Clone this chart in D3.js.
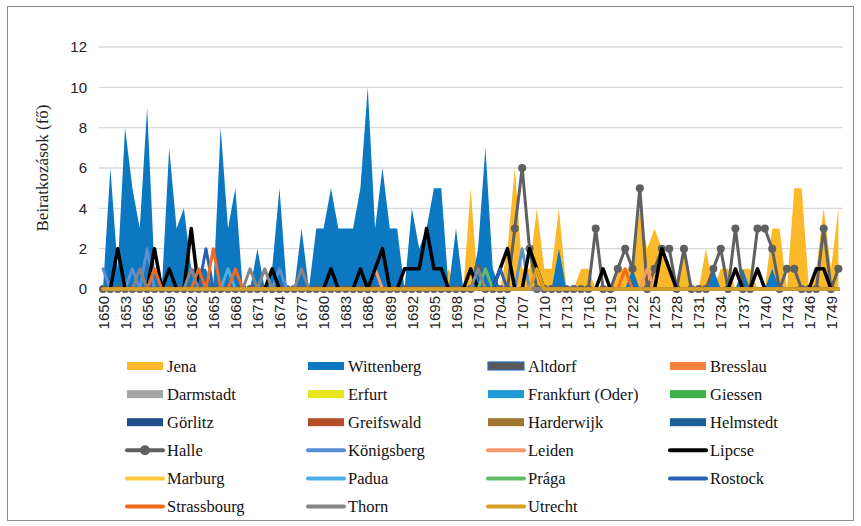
<!DOCTYPE html>
<html><head><meta charset="utf-8">
<script src="https://cdn.jsdelivr.net/npm/d3@7"></script>
<style>
body{margin:0;background:#fff}svg{display:block}
.serif{font-family:'Liberation Serif','Times New Roman',Times,serif}
.sans{font-family:'Liberation Sans',Arial,Helvetica,sans-serif}
</style>
</head><body>
<svg id="chart" width="861" height="526"></svg>
<script>
// ---------- DATA ----------
const years = d3.range(1650, 1751);
const tickLabels = ["1650","1653","1656","1659","1662","1665","1668","1671","1674","1677","1680","1683","1686","1689","1692","1695","1698","1701","1704","1707","1710","1713","1716","1719","1722","1725","1728","1731","1734","1737","1740","1743","1746","1749"];
const yTicks = [0, 2, 4, 6, 8, 10, 12];

const jena = [
 0,0,0,0,0,0,0,0,0,0, 0,0,0,0,0,0,0,0,0,0, 0,0,0,0,0,0,0,0,0,0, 0,0,0,0,0,0,0,0,0,0,
 0,0,0,0,0,0,0,1,0,0, 5,0,0,0,0,2,6,1,1,4, 1,1,4,0,0,1,1,0,0,0, 1,1,1,4,2,3,2,1,0,2,
 0,0,2,0,1,1,0,1,1,0, 0,3,3,0,5,5,0,1,4,1, 4];
const wittenberg = [
 0,6,1,8,5,3,9,1,0,7, 3,4,1,1,1,0,8,3,5,0, 0,2,0,1,5,0,0,3,0,3, 3,5,3,3,3,5,10,3,6,3,
 3,0,4,2,3,5,5,0,3,0, 0,2,7,1,0,0,0,0,0,0, 0,0,2,0,0,0,0,0,0,0, 0,0,1,0,0,0,0,0,0,0,
 0,0,0,1,0,0,0,1,0,0, 0,1,0,0,0,0,0,0,0,0, 0];
const altdorf = [
 0,0,0,0,0,0,0,0,0,0, 0,0,0,0,0,0,0,0,0,0, 0,0,0,0,0,0,0,0,0,0, 0,0,0,0,0,0,0,0,0,0,
 0,0,0,0,0,0,0,0,0,0, 0,0,0,0,0,0,0,0,0,0, 0,0,0,0,0,0,0,0,0,0, 0,0,0,0,0,0,0,0,0,0,
 0,0,0,0,0,0,0,0,0,0, 0,0,0,0,0,0,0,0,0,0, 0];
const bresslau = [
 0,0,0,0,0,0,0,0,0,0, 0,0,0,0,0,0,0,0,0,0, 0,0,0,0,0,0,0,0,0,0, 0,0,0,0,0,0,0,0,0,0,
 0,0,0,0,0,0,0,0,0,0, 0,0,0,0,0,0,0,0,0,0, 0,0,0,0,0,0,0,0,0,0, 0,0,0,0,0,0,0,0,0,0,
 0,0,0,0,0,0,0,0,0,0, 0,0,0,0,0,0,0,0,0,0, 0];
const darmstadt = [
 0,0,0,0,0,0,0,0,0,0, 0,0,0,0,0,0,0,0,0,0, 0,0,0,0,0,0,0,0,0,0, 0,0,0,0,0,0,0,0,0,0,
 0,0,0,0,0,0,0,0,0,0, 0,0,0,0,0,0,0,0,0,0, 0,0,0,0,0,0,0,0,0,0, 0,0,0,0,0,0,0,0,0,0,
 0,0,0,0,0,0,0,0,0,0, 0,0,0,0,0,0,0,0,0,0, 0];
const erfurt = [
 0,0,0,0,0,0,0,0,0,0, 0,0,0,0,0,0,0,0,0,0, 0,0,0,0,0,0,0,0,0,0, 0,0,0,0,0,0,0,0,0,0,
 0,0,0,0,0,0,0,0,0,0, 0,0,0,0,0,0,0,0,0,0, 0,0,0,0,0,0,0,0,0,0, 0,0,0,0,0,0,0,0,0,0,
 0,0,0,0,0,0,0,0,0,0, 0,0,0,0,0,0,0,0,0,0, 0];
const frankfurt = [
 0,0,0,0,0,0,0,0,0,0, 0,0,0,0,0,0,0,0,0,0, 0,0,0,0,0,0,0,0,0,0, 0,0,0,0,0,0,0,0,0,0,
 0,0,0,0,0,0,0,0,0,0, 0,0,0,0,0,0,0,0,0,0, 0,0,0,0,0,0,0,0,0,0, 0,0,0,0,0,0,0,0,0,0,
 0,0,0,0,0,0,0,0,0,0, 0,0,0,0,0,0,0,0,0,0, 0];
const giessen = [
 0,0,0,0,0,0,0,0,0,0, 0,0,0,0,0,0,0,0,0,0, 0,0,0,0,0,0,0,0,0,0, 0,0,0,0,0,0,0,0,0,0,
 0,0,0,0,0,0,0,0,0,0, 0,0,0,0,0,0,0,0,0,0, 0,0,0,0,0,0,0,0,0,0, 0,0,0,0,0,0,0,0,0,0,
 0,0,0,0,0,0,0,0,0,0, 0,0,0,0,0,0,0,0,0,0, 0];
const gorlitz = [
 0,0,0,0,0,0,0,0,0,0, 0,0,0,0,0,0,0,0,0,0, 0,0,0,0,0,0,0,0,0,0, 0,0,0,0,0,0,0,0,0,0,
 0,0,0,0,0,0,0,0,0,0, 0,0,0,0,0,0,0,0,0,0, 0,0,0,0,0,0,0,0,0,0, 0,0,0,0,0,0,0,0,0,0,
 0,0,0,0,0,0,0,0,0,0, 0,0,0,0,0,0,0,0,0,0, 0];
const greifswald = [
 0,0,0,0,0,0,0,0,0,0, 0,0,0,0,0,0,0,0,0,0, 0,0,0,0,0,0,0,0,0,0, 0,0,0,0,0,0,0,0,0,0,
 0,0,0,0,0,0,0,0,0,0, 0,0,0,0,0,0,0,0,0,0, 0,0,0,0,0,0,0,0,0,0, 0,0,0,0,0,0,0,0,0,0,
 0,0,0,0,0,0,0,0,0,0, 0,0,0,0,0,0,0,0,0,0, 0];
const harderwijk = [
 0,0,0,0,0,0,0,0,0,0, 0,0,0,0,0,0,0,0,0,0, 0,0,0,0,0,0,0,0,0,0, 0,0,0,0,0,0,0,0,0,0,
 0,0,0,0,0,0,0,0,0,0, 0,0,0,0,0,0,0,0,0,0, 0,0,0,0,0,0,0,0,0,0, 0,0,0,0,0,0,0,0,0,0,
 0,0,0,0,0,0,0,0,0,0, 0,0,0,0,0,0,0,0,0,0, 0];
const helmstedt = [
 0,0,0,0,0,0,0,0,0,0, 0,0,0,0,0,0,0,0,0,0, 0,0,0,0,0,0,0,0,0,0, 0,0,0,0,0,0,0,0,0,0,
 0,0,0,0,0,0,0,0,0,0, 0,0,0,0,0,0,0,0,0,0, 0,0,0,0,0,0,0,0,0,0, 0,0,0,0,0,0,0,0,0,0,
 0,0,0,0,0,0,0,0,0,0, 0,0,0,0,0,0,0,0,0,0, 0];
const halle = [
 0,0,0,0,0,0,0,0,0,0, 0,0,0,0,0,0,0,0,0,0, 0,0,0,0,0,0,0,0,0,0, 0,0,0,0,0,0,0,0,0,0,
 0,0,0,0,0,0,0,0,0,0, 0,1,0,0,0,0,3,6,2,0, 0,0,0,0,0,0,0,3,0,0, 1,2,1,5,0,1,2,2,0,2,
 0,0,0,1,2,0,3,0,0,3, 3,2,0,1,1,0,0,0,3,0, 1];
const konigsberg = [
 1,0,0,0,1,0,2,0,0,0, 0,0,0,0,0,0,0,0,0,0, 0,0,0,0,1,0,0,0,0,0, 0,0,0,0,0,0,0,0,0,0,
 0,0,0,0,0,0,0,0,0,0, 0,0,0,0,0,0,0,2,0,0, 0,0,0,0,0,0,0,0,0,0, 0,0,0,0,0,0,0,0,0,0,
 0,0,0,0,0,0,0,0,0,0, 0,0,0,0,0,0,0,0,0,0, 0];
const leiden = [
 0,0,0,0,0,0,0,0,0,0, 0,0,0,0,0,0,0,0,0,0, 0,0,0,0,0,0,0,0,0,0, 0,0,0,0,0,0,0,1,0,0,
 0,0,0,0,0,0,0,0,0,0, 0,0,0,0,0,0,0,0,0,0, 0,0,0,0,0,0,0,0,0,0, 0,0,0,0,1,0,0,0,0,0,
 0,0,0,0,0,0,0,0,0,0, 0,0,0,0,0,0,0,0,0,0, 0];
const lipcse = [
 0,0,2,0,0,0,0,2,0,1, 0,0,3,0,0,0,0,0,0,0, 0,0,0,1,0,0,0,0,0,0, 0,1,0,0,0,1,0,1,2,0,
 0,1,1,1,3,1,1,0,0,0, 1,0,0,0,1,2,0,0,2,1, 0,0,0,0,0,0,0,0,1,0, 0,0,0,0,0,0,2,1,0,0,
 0,0,0,0,0,0,1,0,0,1, 0,0,0,0,0,0,0,1,1,0, 0];
const marburg = [
 0,0,0,0,0,0,0,0,0,0, 0,0,0,0,0,0,0,0,0,0, 0,0,0,0,0,0,0,0,0,0, 0,0,0,0,0,0,0,0,0,0,
 0,0,0,0,0,0,0,0,0,0, 0,0,0,0,0,0,0,0,0,0, 0,0,0,0,0,0,0,0,0,0, 0,0,0,0,0,0,0,0,0,0,
 0,0,0,0,0,0,0,0,0,0, 0,0,0,0,0,0,0,0,0,0, 0];
const padua = [
 0,0,0,0,0,0,0,0,0,0, 0,0,0,0,0,0,0,1,0,0, 0,0,0,0,0,0,0,0,0,0, 0,0,0,0,0,0,0,0,0,0,
 0,0,0,0,0,0,0,0,0,0, 0,0,0,0,0,0,0,0,0,0, 0,0,0,0,0,0,0,0,0,0, 0,0,0,0,0,0,0,0,0,0,
 0,0,0,0,0,0,0,0,0,0, 0,0,0,0,0,0,0,0,0,0, 0];
const praga = [
 0,0,0,0,0,0,0,0,0,0, 0,0,0,0,0,0,0,0,0,0, 0,0,0,0,0,0,0,0,0,0, 0,0,0,0,0,0,0,0,0,0,
 0,0,0,0,0,0,0,0,0,0, 0,0,1,0,0,0,0,0,0,0, 0,0,0,0,0,0,0,0,0,0, 0,0,0,0,0,0,0,0,0,0,
 0,0,0,0,0,0,0,0,0,0, 0,0,0,0,0,0,0,0,0,0, 0];
const rostock = [
 0,0,0,0,0,0,0,0,0,0, 0,0,0,0,2,0,0,0,0,0, 0,0,0,0,0,0,0,0,0,0, 0,0,0,0,0,0,0,0,0,0,
 0,0,0,0,0,0,0,0,0,0, 0,0,0,0,1,0,0,0,0,0, 0,0,0,0,0,0,0,0,0,0, 0,0,0,0,0,0,0,0,0,0,
 0,0,0,0,0,0,0,0,0,0, 0,0,0,0,0,0,0,0,0,0, 0];
const strassbourg = [
 0,0,0,0,0,0,0,1,0,0, 0,0,0,1,0,2,0,0,1,0, 0,0,0,0,0,0,0,0,0,0, 0,0,0,0,0,0,0,0,0,0,
 0,0,0,0,0,0,0,0,0,0, 0,0,0,0,0,0,0,0,0,0, 0,0,0,0,0,0,0,0,0,0, 0,1,0,0,0,0,0,0,0,0,
 0,0,0,0,0,0,0,0,0,0, 0,0,0,0,0,0,0,0,0,0, 0];
const thorn = [
 0,0,0,0,0,1,0,0,0,0, 0,0,1,0,0,0,0,0,0,0, 1,0,1,0,0,0,0,1,0,0, 0,0,0,0,0,0,0,0,0,0,
 0,0,0,0,0,0,0,0,0,0, 0,1,0,0,0,0,0,0,0,0, 0,0,0,0,0,0,0,0,0,0, 0,0,0,0,0,0,0,0,0,0,
 0,0,0,0,0,0,0,0,0,0, 0,0,0,0,0,0,0,0,0,0, 0];
const utrecht = [
 0,0,0,0,0,0,0,0,0,0, 0,0,0,0,0,0,0,0,0,0, 0,0,0,0,0,0,0,0,0,0, 0,0,0,0,0,0,0,0,0,0,
 0,0,0,0,0,0,0,0,0,0, 0,0,0,0,0,0,0,0,0,1, 0,0,0,0,0,0,0,0,0,0, 0,0,0,0,0,0,0,0,0,0,
 0,0,0,0,0,0,0,0,0,0, 0,0,0,0,0,0,0,0,0,0, 0];

// series table (legend order, row-major over 4 columns)
const series = [
  {name:"Jena", type:"area", color:"#fbb829", values:jena},
  {name:"Wittenberg", type:"area", color:"#0b78c1", values:wittenberg},
  {name:"Altdorf", type:"area", color:"#595959", stroke:"#2f6fba", values:altdorf},
  {name:"Bresslau", type:"area", color:"#f4813f", values:bresslau},
  {name:"Darmstadt", type:"area", color:"#a5a5a5", values:darmstadt},
  {name:"Erfurt", type:"area", color:"#e6e61e", values:erfurt},
  {name:"Frankfurt (Oder)", type:"area", color:"#1e9ad8", values:frankfurt},
  {name:"Giessen", type:"area", color:"#3bb34a", values:giessen},
  {name:"Görlitz", type:"area", color:"#1f4e8c", values:gorlitz},
  {name:"Greifswald", type:"area", color:"#b34d25", values:greifswald},
  {name:"Harderwijk", type:"area", color:"#9e7430", values:harderwijk},
  {name:"Helmstedt", type:"area", color:"#1a6399", values:helmstedt},
  {name:"Halle", type:"line", color:"#5f6062", marker:true, values:halle},
  {name:"Königsberg", type:"line", color:"#5b8fd3", values:konigsberg},
  {name:"Leiden", type:"line", color:"#f79a6b", values:leiden},
  {name:"Lipcse", type:"line", color:"#000000", width:3.5, values:lipcse},
  {name:"Marburg", type:"line", color:"#ffc83a", values:marburg},
  {name:"Padua", type:"line", color:"#4daee8", values:padua},
  {name:"Prága", type:"line", color:"#62bb66", values:praga},
  {name:"Rostock", type:"line", color:"#2862b4", values:rostock},
  {name:"Strassbourg", type:"line", color:"#f26b1d", values:strassbourg},
  {name:"Thorn", type:"line", color:"#858585", values:thorn},
  {name:"Utrecht", type:"line", color:"#d99f22", width:3.5, values:utrecht}
];

// ---------- CHART ----------
const svg = d3.select("#chart");
const W = 861, H = 526;
svg.append("rect").attr("x",0).attr("y",0).attr("width",W).attr("height",H).attr("fill","#fff");
svg.append("rect").attr("x",7.5).attr("y",6.5).attr("width",846).attr("height",514)
  .attr("fill","none").attr("stroke","#8c8c8c").attr("stroke-width",1);

const x = d3.scaleLinear().domain([1650, 1750]).range([103, 838.4]);
const y = d3.scaleLinear().domain([0, 12]).range([289, 47]);
const gridX0 = 99, gridX1 = 843;

// gridlines
svg.append("g").selectAll("line").data(yTicks.filter(d => d > 0)).join("line")
  .attr("x1", gridX0).attr("x2", gridX1)
  .attr("y1", d => y(d)).attr("y2", d => y(d))
  .attr("stroke", "#d9d9d9").attr("stroke-width", 1.3);

// y axis labels
const yAxis = d3.axisLeft(y).tickValues(yTicks).tickSize(0).tickPadding(0);
const gy = svg.append("g").attr("transform", "translate(87,0)").call(yAxis);
gy.select(".domain").remove();
gy.attr("font-family", null).attr("font-size", null);
gy.selectAll("text").attr("class", "sans").style("font-size", "15px").attr("fill", "#222");

// areas and lines
const area = d3.area().x((d,i) => x(years[i])).y0(y(0)).y1(d => y(d));
const line = d3.line().x((d,i) => x(years[i])).y(d => y(d));
const plot = svg.append("g");
series.filter(s => s.type === "area").forEach(s => {
  plot.append("path").attr("d", area(s.values)).attr("fill", s.color)
    .attr("stroke", s.stroke || "none").attr("stroke-width", s.stroke ? 1 : 0);
});
series.filter(s => s.type === "line").forEach(s => {
  plot.append("path").attr("d", line(s.values)).attr("fill", "none")
    .attr("stroke", s.color).attr("stroke-width", s.width || 3)
    .attr("stroke-linejoin", "round").attr("stroke-linecap", "round");
  if (s.marker) {
    plot.append("g").selectAll("circle").data(s.values).join("circle")
      .attr("cx", (d,i) => x(years[i])).attr("cy", d => y(d)).attr("r", 4)
      .attr("fill", s.color);
  }
});

// x axis labels
const xAxis = d3.axisBottom(x).tickValues(tickLabels.map(Number)).tickFormat((d, i) => tickLabels[i]).tickSize(0);
const gx = svg.append("g").attr("transform", `translate(0,${y(0)})`).call(xAxis);
gx.select(".domain").remove();
gx.attr("font-family", null).attr("font-size", null);
gx.selectAll("text")
  .attr("class", "sans").style("font-size", "15px").attr("fill", "#222")
  .attr("transform", "rotate(-90)")
  .attr("text-anchor", "end").attr("x", -7).attr("y", 0).attr("dy", "0.35em");

// y title
svg.append("text").attr("class", "serif").attr("transform", "translate(48,168) rotate(-90)")
  .attr("text-anchor", "middle").style("font-size", "17px")
  .attr("fill", "#222").text("Beiratkozások (fő)");

// legend
const colX = [127, 308, 488, 670];
const rowY0 = 366, rowDy = 28.1;
const leg = svg.append("g");
series.forEach((s, k) => {
  const cx = colX[k % 4], cy = rowY0 + Math.floor(k / 4) * rowDy;
  const g = leg.append("g");
  if (s.type === "area") {
    g.append("rect").attr("x", cx).attr("y", cy - 4).attr("width", 36).attr("height", 8)
      .attr("fill", s.color).attr("stroke", s.stroke || "none").attr("stroke-width", s.stroke ? 1.2 : 0);
  } else {
    g.append("line").attr("x1", cx).attr("x2", cx + 36).attr("y1", cy).attr("y2", cy)
      .attr("stroke", s.color).attr("stroke-width", 4).attr("stroke-linecap", "round");
    if (s.marker) g.append("circle").attr("cx", cx + 18).attr("cy", cy).attr("r", 5).attr("fill", s.color);
  }
  g.append("text").attr("class", "serif").attr("x", cx + 40).attr("y", cy).attr("dy", "0.35em")
    .style("font-size", "16.5px").attr("fill", "#111").text(s.name);
});
</script>
</body></html>
